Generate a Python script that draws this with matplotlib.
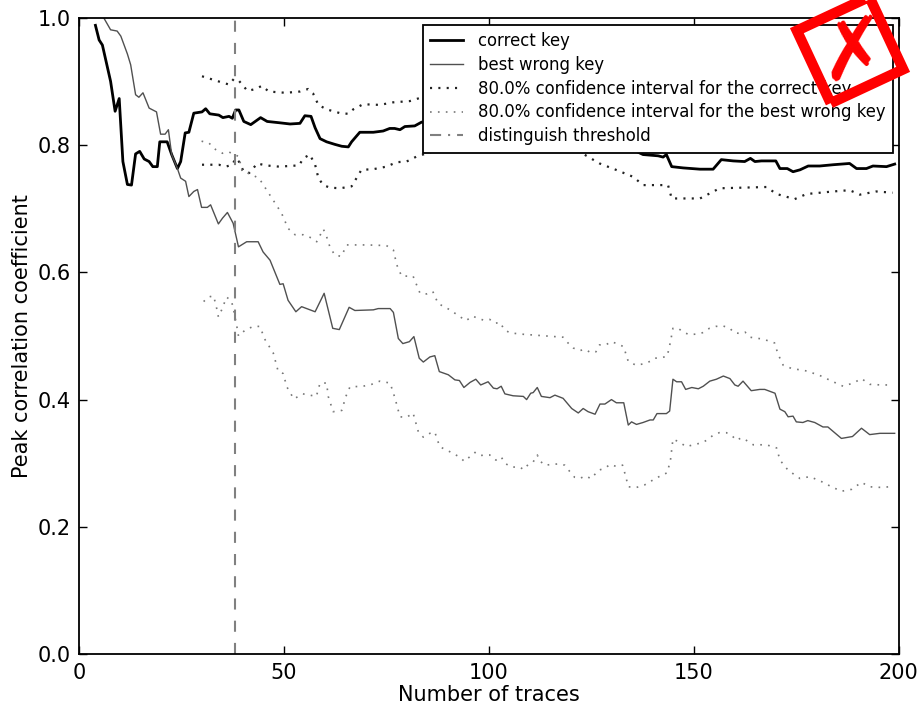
import numpy as np
import matplotlib.pyplot as plt
from matplotlib.patches import Polygon
from matplotlib.lines import Line2D

plt.rcParams['lines.scale_dashes'] = False

# correct key
ck_x = [4, 4.9, 5.7, 7.7, 8.8, 9.8, 10.7, 11.8, 12.8, 13.8, 14.8, 15.9, 17.1, 18, 19.1, 19.7,
        21.5, 22.6, 24, 24.8, 25.9, 26.8, 28, 30, 30.9, 31.9, 34.1, 35.1, 36.6, 37.4, 38.2, 39,
        40.2, 41.9, 44.3, 45.9, 48.8, 51.5, 53.9, 55.1, 56.6, 57.6, 58.8, 60.4, 62.4, 64.1, 65.7,
        66.5, 68.5, 71.8, 74.2, 75.8, 77, 78.3, 79.5, 81.9, 83.6, 86, 90, 95, 100, 105, 110, 115,
        120, 125, 130, 134, 137.6, 141.3, 142.5, 143.3, 144.6, 147.4, 151.5, 154.7, 156.7, 159.6,
        162.4, 163.8, 164.9, 166.5, 170, 171, 172.8, 174.2, 175.9, 177.9, 180.7, 184, 188, 189.7,
        192.1, 193.7, 197, 199]
ck_y = [0.988, 0.965, 0.957, 0.90, 0.853, 0.873, 0.774, 0.738, 0.737, 0.786, 0.79, 0.778, 0.774,
        0.766, 0.766, 0.805, 0.805, 0.785, 0.763, 0.774, 0.819, 0.82, 0.850, 0.852, 0.857, 0.849,
        0.847, 0.843, 0.845, 0.842, 0.855, 0.855, 0.837, 0.832, 0.843, 0.837, 0.835, 0.833, 0.834,
        0.846, 0.845, 0.827, 0.810, 0.805, 0.801, 0.798, 0.797, 0.805, 0.820, 0.820, 0.822, 0.826,
        0.826, 0.824, 0.829, 0.830, 0.836, 0.835, 0.838, 0.835, 0.830, 0.826, 0.822, 0.815, 0.810,
        0.805, 0.800, 0.796, 0.785, 0.783, 0.781, 0.785, 0.766, 0.764, 0.762, 0.762, 0.777, 0.775,
        0.774, 0.779, 0.774, 0.775, 0.775, 0.763, 0.763, 0.758, 0.761, 0.767, 0.767, 0.769, 0.771,
        0.763, 0.763, 0.767, 0.766, 0.770]

# best wrong key
wk_x = [4, 5, 6.1, 7.7, 9.3, 10.2, 11.8, 12.6, 13.8, 14.6, 15.6, 17.1, 18.9, 19.9, 21, 21.8,
        22.6, 24, 24.8, 26, 26.8, 28, 28.9, 29.9, 31.3, 32.1, 34, 35, 36.2, 37.6, 38.9, 40.9,
        43.7, 44.9, 46.6, 49, 49.8, 51, 52.9, 54.3, 57.6, 59.8, 61.9, 63.5, 65.9, 67.3, 71.8, 73,
        75.9, 76.7, 77.9, 79, 80.6, 81.7, 83, 84, 85.6, 86.8, 87.9, 90.1, 91.7, 92.8, 93.9, 95.4,
        96.8, 98, 99.8, 101.1, 102, 103, 103.9, 105.9, 108.4, 109.2, 110.2, 110.8, 111.8, 112.8,
        114.9, 116.1, 118.1, 120.2, 121.8, 123, 124.2, 125.9, 127.1, 128.3, 129.9, 131.1, 132.9,
        134, 134.8, 136, 137.6, 139.3, 140.1, 141, 143.3, 144.1, 144.9, 145.8, 147, 148, 149.5,
        151.1, 152.3, 153.9, 155.5, 157.2, 158.8, 160, 160.8, 162, 164, 166.1, 167.3, 169.8, 171,
        172.2, 173, 174.2, 175, 176.6, 177.8, 179.5, 181.5, 182.7, 186, 188.7, 190.9, 192.9,
        195.4, 199]
wk_y = [1.05, 1.02, 0.999, 0.981, 0.979, 0.971, 0.943, 0.926, 0.879, 0.875, 0.882, 0.858, 0.852,
        0.817, 0.817, 0.824, 0.785, 0.763, 0.748, 0.743, 0.719, 0.727, 0.73, 0.702, 0.702, 0.706,
        0.676, 0.685, 0.694, 0.677, 0.640, 0.648, 0.648, 0.632, 0.619, 0.581, 0.582, 0.556, 0.538,
        0.546, 0.538, 0.567, 0.512, 0.510, 0.545, 0.540, 0.541, 0.543, 0.543, 0.537, 0.496, 0.488,
        0.491, 0.499, 0.465, 0.459, 0.467, 0.469, 0.444, 0.439, 0.431, 0.430, 0.419, 0.427, 0.432,
        0.423, 0.428, 0.418, 0.417, 0.421, 0.409, 0.406, 0.405, 0.400, 0.41, 0.411, 0.419, 0.405,
        0.403, 0.407, 0.402, 0.386, 0.379, 0.386, 0.381, 0.377, 0.393, 0.393, 0.400, 0.395, 0.395,
        0.360, 0.365, 0.361, 0.364, 0.368, 0.368, 0.378, 0.378, 0.382, 0.432, 0.428, 0.428, 0.416,
        0.419, 0.417, 0.421, 0.429, 0.432, 0.437, 0.433, 0.423, 0.421, 0.429, 0.414, 0.416, 0.416,
        0.410, 0.385, 0.381, 0.373, 0.374, 0.365, 0.364, 0.367, 0.364, 0.357, 0.357, 0.339, 0.342,
        0.355, 0.345, 0.347, 0.347]

# 80% confidence interval, correct key
ck_hi_x = [30, 32.5, 35, 36.6, 37.8, 39, 41.1, 43.1, 44.6, 46.3, 50.4, 53.9, 55.9, 57.1, 58.4,
           60.4, 63.7, 65.7, 66.9, 69.3, 73.4, 76.6, 80.7, 83.2, 90, 100, 110, 120, 130, 140,
           145, 155, 165, 175, 185, 199]
ck_hi_y = [0.908, 0.903, 0.898, 0.895, 0.904, 0.901, 0.885, 0.888, 0.893, 0.884, 0.882, 0.884,
           0.888, 0.881, 0.863, 0.856, 0.850, 0.849, 0.856, 0.864, 0.863, 0.867, 0.869, 0.874,
           0.876, 0.872, 0.866, 0.858, 0.848, 0.838, 0.822, 0.820, 0.818, 0.808, 0.808, 0.805]
ck_lo_x = [30, 34.1, 35.8, 37.4, 38.2, 39, 40.2, 41.5, 43.5, 45.5, 48.8, 53.7, 54.7, 56.3, 57.6,
           58.4, 59.6, 61.2, 63.7, 66.5, 67.7, 68.9, 71.8, 75, 77.5, 79.9, 82.4, 90, 100, 110,
           119, 123, 127, 131, 135.2, 137.6, 143.7, 144.6, 151.5, 156.3, 167.7, 170.2, 174.6,
           177.5, 184, 188, 190.5, 194.5, 198.5]
ck_lo_y = [0.769, 0.769, 0.766, 0.769, 0.779, 0.774, 0.758, 0.756, 0.771, 0.768, 0.766, 0.768,
           0.779, 0.785, 0.769, 0.748, 0.737, 0.733, 0.732, 0.735, 0.748, 0.761, 0.762, 0.766,
           0.773, 0.774, 0.782, 0.797, 0.802, 0.802, 0.800, 0.786, 0.771, 0.761, 0.750, 0.737,
           0.737, 0.716, 0.716, 0.732, 0.734, 0.723, 0.715, 0.723, 0.727, 0.729, 0.722, 0.727,
           0.725]

# 80% confidence interval, best wrong key
wk_hi_x = [29.9, 31.7, 33.3, 35, 36.6, 37.8, 39, 39.8, 41.1, 43.9, 45.8, 47.8, 49.4, 51, 52.7,
           54.7, 56.7, 58, 59.6, 60.4, 61.2, 62.4, 64, 65.3, 67.7, 70.2, 75, 76.7, 77.5, 78.7,
           81.5, 82.5, 83.2, 84.8, 86.3, 87.6, 90.5, 93, 94.4, 96, 98.6, 100.2, 101.4, 102.8,
           103.7, 105.1, 107.6, 118.1, 119.3, 120.6, 122.2, 123.4, 124.8, 126.1, 127, 128.5,
           129.9, 131.6, 132.9, 133.4, 134, 135.9, 137.6, 139.3, 140.5, 142.1, 143.5, 144.3,
           144.9, 146.2, 147.4, 148.9, 150.7, 152.1, 153.8, 155.4, 157, 158.8, 159.8, 161.2,
           162.5, 163.7, 166.9, 169.7, 170.5, 171.8, 173.8, 177.5, 180.7, 184, 186.4, 188.9,
           190.9, 192.9, 195.7, 198.6]
wk_hi_y = [0.806, 0.803, 0.793, 0.787, 0.789, 0.785, 0.782, 0.758, 0.756, 0.748, 0.729, 0.709,
           0.693, 0.669, 0.659, 0.659, 0.654, 0.648, 0.668, 0.656, 0.640, 0.627, 0.625, 0.643,
           0.643, 0.643, 0.642, 0.635, 0.612, 0.594, 0.594, 0.578, 0.567, 0.566, 0.570, 0.551,
           0.541, 0.530, 0.524, 0.531, 0.525, 0.526, 0.520, 0.521, 0.510, 0.505, 0.503, 0.498,
           0.489, 0.481, 0.477, 0.479, 0.474, 0.475, 0.486, 0.486, 0.491, 0.487, 0.483, 0.472,
           0.460, 0.454, 0.456, 0.460, 0.465, 0.466, 0.468, 0.491, 0.512, 0.512, 0.506, 0.502,
           0.503, 0.505, 0.512, 0.515, 0.516, 0.512, 0.505, 0.504, 0.506, 0.498, 0.495, 0.489,
           0.472, 0.454, 0.449, 0.445, 0.438, 0.428, 0.421, 0.426, 0.433, 0.424, 0.423, 0.423]
wk_lo_x = [30.4, 31.5, 32.8, 33.4, 34, 34.8, 36, 37.2, 37.8, 38.5, 38.9, 40.5, 42.5, 44.1, 45.4,
           47.4, 48.6, 49.8, 50.7, 52.4, 54.6, 56.3, 57.9, 58.8, 60.4, 60.8, 61.4, 62, 64.1, 64.6,
           65.1, 66.1, 69.3, 71.4, 73.4, 75.9, 77.1, 78.3, 79.9, 81.5, 82.8, 84, 85.6, 86.8, 88,
           90.5, 92.8, 94, 96.6, 97.8, 99, 100.2, 101.7, 103, 103.9, 105.5, 107.6, 108.4, 109.6,
           110.8, 111.8, 112.4, 113.6, 115.3, 116.9, 118.5, 119.6, 120.9, 122.2, 123.4, 125,
           126.7, 128.3, 129.5, 131.1, 132.6, 133.4, 134, 136, 138, 140.1, 142.1, 143.5, 144.3,
           144.9, 146.2, 148.2, 149.8, 151.9, 153.1, 154.7, 156.2, 157.9, 159.2, 160.4, 161.6,
           162.8, 164.5, 167.7, 170.2, 171, 173, 175.9, 178.3, 181.2, 183.6, 186, 188.5, 190.9,
           192.9, 195.7, 197.7]
wk_lo_y = [0.554, 0.561, 0.563, 0.549, 0.530, 0.541, 0.561, 0.555, 0.538, 0.515, 0.500, 0.509,
           0.515, 0.515, 0.494, 0.473, 0.444, 0.441, 0.420, 0.401, 0.409, 0.407, 0.405, 0.426,
           0.426, 0.405, 0.393, 0.381, 0.383, 0.394, 0.405, 0.420, 0.421, 0.424, 0.429, 0.426,
           0.402, 0.373, 0.372, 0.379, 0.349, 0.341, 0.347, 0.349, 0.326, 0.318, 0.310, 0.303,
           0.317, 0.312, 0.313, 0.313, 0.305, 0.310, 0.300, 0.294, 0.294, 0.290, 0.298, 0.302,
           0.313, 0.304, 0.297, 0.298, 0.299, 0.297, 0.288, 0.278, 0.276, 0.280, 0.276, 0.289,
           0.292, 0.298, 0.295, 0.297, 0.279, 0.263, 0.262, 0.266, 0.274, 0.281, 0.285, 0.305,
           0.338, 0.334, 0.326, 0.329, 0.332, 0.336, 0.344, 0.348, 0.348, 0.344, 0.336, 0.340,
           0.336, 0.329, 0.329, 0.324, 0.305, 0.289, 0.276, 0.279, 0.271, 0.263, 0.256, 0.259,
           0.270, 0.263, 0.262, 0.263]

threshold = 38

fig = plt.figure(figsize=(9.19, 7.08), dpi=100)
ax = fig.add_axes([0.086, 0.076, 0.892, 0.899])

ax.plot(ck_x, ck_y, color='black', lw=2, label='correct key')
ax.plot(wk_x, wk_y, color='#505050', lw=1, label='best wrong key')
ax.plot(ck_hi_x, ck_hi_y, color='#222222', lw=1.6, dashes=(1.5, 4.5),
        label='80.0% confidence interval for the correct key')
ax.plot(ck_lo_x, ck_lo_y, color='#222222', lw=1.6, dashes=(1.5, 4.5))
ax.plot(wk_hi_x, wk_hi_y, color='#777777', lw=1.2, dashes=(1.2, 4.5),
        label='80.0% confidence interval for the best wrong key')
ax.plot(wk_lo_x, wk_lo_y, color='#777777', lw=1.2, dashes=(1.2, 4.5))
ax.axvline(threshold, color='#808080', lw=1.5, dashes=(8, 8))

handles, labels = ax.get_legend_handles_labels()
handles.append(Line2D([], [], color='#808080', lw=1.5, dashes=(8, 5, 1.5, 5)))
labels.append('distinguish threshold')

ax.set_xlim(0, 200)
ax.set_ylim(0, 1.0)
ax.set_xticks([0, 50, 100, 150, 200])
ax.set_yticks([0.0, 0.2, 0.4, 0.6, 0.8, 1.0])
ax.tick_params(direction='in', top=True, right=True, length=6, width=1, labelsize=15, pad=6)
for s in ax.spines.values():
    s.set_linewidth(1.3)
ax.set_xlabel('Number of traces', fontsize=15, labelpad=2)
ax.set_ylabel('Peak correlation coefficient', fontsize=15, labelpad=4)

leg = ax.legend(handles, labels, loc='upper right', bbox_to_anchor=(0.993, 0.989),
                borderaxespad=0, fontsize=11.9, handlelength=2.0, handletextpad=0.9,
                labelspacing=0.35, borderpad=0.45,
                fancybox=False, framealpha=1, edgecolor='black')
leg.get_frame().set_linewidth(1.3)

# red "rejected" stamp in the top right corner (display pixels)
cx, cy, side, ang = 850, 708 - 50, 80, np.deg2rad(25)
sq = np.array([[-1, -1], [1, -1], [1, 1], [-1, 1]]) * side / 2
rot = np.array([[np.cos(ang), -np.sin(ang)], [np.sin(ang), np.cos(ang)]])
pts = sq @ rot.T + [cx, cy]
fig.patches.append(Polygon(pts, closed=True, fill=False, edgecolor='red', lw=7.5,
                           transform=None, zorder=10))
fig.text(cx + 3, cy - 3, '\u2717', transform=None, color='red', fontsize=60,
         fontweight='bold', ha='center', va='center', rotation=8, zorder=11)

fig.savefig('out.png', dpi=100)
